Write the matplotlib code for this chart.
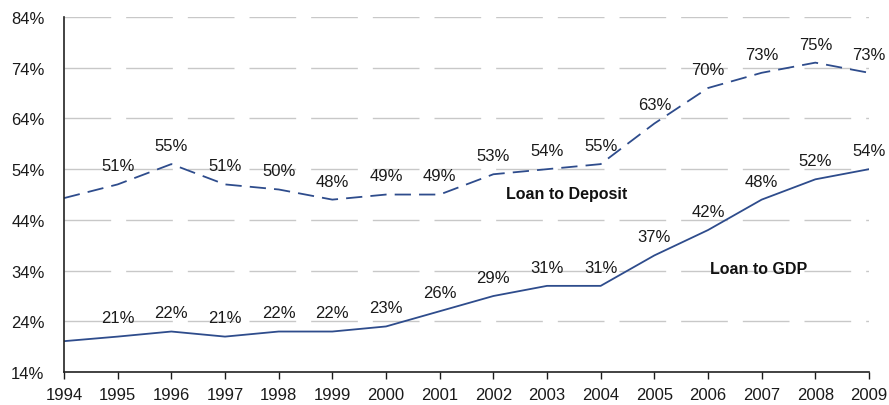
import matplotlib.pyplot as plt
from matplotlib.ticker import FuncFormatter

years = list(range(1994, 2010))
loan_to_deposit = [48.3, 51, 55, 51, 50, 48, 49, 49, 53, 54, 55, 63, 70, 73, 75, 73]
loan_to_gdp = [20.1, 21, 22, 21, 22, 22, 23, 26, 29, 31, 31, 37, 42, 48, 52, 54]
y_ticks = [14, 24, 34, 44, 54, 64, 74, 84]

line_color = "#2E4C8C"
plt.rcParams["font.family"] = ["Liberation Sans", "DejaVu Sans"]

fig = plt.figure(figsize=(8.89, 4.06), dpi=100)
ax = fig.add_axes([0.072, 0.081, 0.9055, 0.8747])

ax.plot(years, loan_to_gdp, color=line_color, lw=1.3, solid_joinstyle="round")
ax.plot(years, loan_to_deposit, color=line_color, lw=1.3, dashes=(9, 4.5))

# value labels above each point (first year has none)
for x, a, b in zip(years[1:], loan_to_deposit[1:], loan_to_gdp[1:]):
    for v in (a, b):
        ax.annotate(f"{v:.0f}%", (x, v), xytext=(0, 8), textcoords="offset points",
                    ha="center", va="bottom", fontsize=12, color="#1a1a1a",
                    annotation_clip=False)

ax.text(2003.37, 49.3, "Loan to Deposit", fontsize=11.5, fontweight="bold",
        ha="center", va="center", color="#111111")
ax.text(2006.95, 34.5, "Loan to GDP", fontsize=11.5, fontweight="bold",
        ha="center", va="center", color="#111111")

ax.set_xlim(1994, 2009)
ax.set_ylim(14, 84)
ax.set_xticks(years)
ax.set_yticks(y_ticks)
ax.yaxis.set_major_formatter(FuncFormatter(lambda v, p: f"{v:.0f}%"))
ax.tick_params(axis="x", length=5, width=1, pad=6, labelsize=12, colors="#1a1a1a")
ax.tick_params(axis="y", length=0, pad=14, labelsize=12, colors="#1a1a1a")

ax.yaxis.grid(True, color="#c8c8c8", lw=1.0)
for gl in ax.get_ygridlines():
    gl.set_dashes([33.6, 10.8])
ax.set_axisbelow(True)

for side in ("top", "right"):
    ax.spines[side].set_visible(False)
for side in ("left", "bottom"):
    ax.spines[side].set_color("#222222")
    ax.spines[side].set_linewidth(1.2)

fig.savefig("out.png", dpi=100)
